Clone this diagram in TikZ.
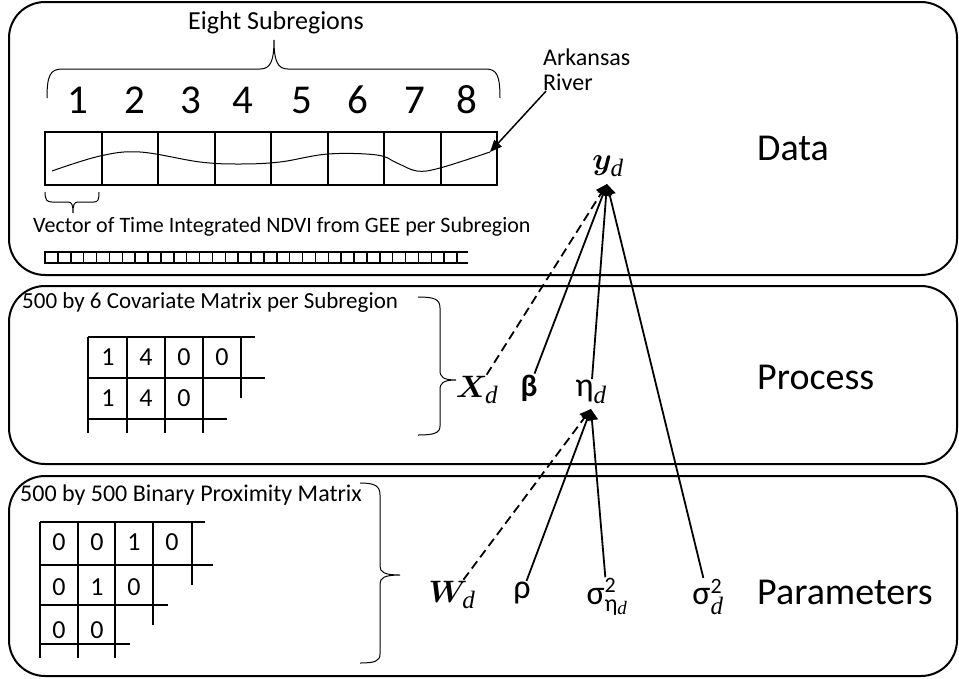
\RequirePackage{fix-cm}
\documentclass[tikz,border=0pt]{standalone}
\usepackage{amsmath}
\usepackage{bm}
\usepackage{fontspec}
\setmainfont{Carlito}
\newfontfamily\serifsub{Liberation Serif}
\usetikzlibrary{arrows.meta}
\newcommand\fsz[1]{\fontsize{#1}{#1}\selectfont}
\newcommand\dsub{\mbox{\fsz{25}\serifsub\itshape d}}
\newcommand\dsubsmall{\mbox{\fsz{19}\serifsub\itshape d}}
\tikzset{
  panel/.style={draw, line width=2pt, rounded corners=36pt},
  gridline/.style={line width=2pt},
  thinline/.style={line width=1pt},
  conn/.style={line width=1.8pt, -{Triangle[length=11pt,width=12pt]}},
  dconn/.style={conn, dash pattern=on 9pt off 5pt},
  lbl/.style={anchor=west, inner sep=0pt, font=\fsz{38}},
  txt/.style={anchor=west, inner sep=0pt},
  sym/.style={inner sep=1pt, font=\fsz{31}},
  gk/.style={inner sep=1pt, font=\fsz{34}},
  digit/.style={inner sep=0pt, font=\fsz{26}},
}
\begin{document}
\begin{tikzpicture}[x=1pt,y=-1pt]
\useasboundingbox (0,0) rectangle (959,678);
% panels
\draw[panel] (9,2) rectangle (957,275);
\draw[panel] (9,286) rectangle (957,464);
\draw[panel] (9,476) rectangle (957,676);

% ---------- Data ----------
\node[inner sep=0pt, font=\fsz{26}] (eight) at (276,23) {Eight Subregions};
\draw[thinline] (47,98) .. controls (47,76) and (50,69) .. (62,69) -- (260,69)
  .. controls (270,69) and (274,62) .. (274,40)
  .. controls (274,62) and (278,69) .. (288,69) -- (486,69)
  .. controls (497,69) and (500,76) .. (500,98);
\foreach \n/\x in {1/78,2/135,3/191,4/243,5/302,6/358,7/415,8/467}
  \node[inner sep=0pt, font=\fsz{41}] (num\n) at (\x,100) {\n};
\draw[gridline] (45,132) rectangle (497,185);
\foreach \x in {102,158,215,271,328,384,441}
  \draw[gridline] (\x,132) -- (\x,185);
\draw[thinline] plot[smooth, tension=0.6] coordinates {(52,171) (100,156) (140,152) (200,162) (240,164) (280,162) (328,154) (377,155) (397,163) (417,171) (440,168) (490,152)};
\coordinate (riverend) at (490,152);
\node[txt, font=\fontsize{24}{25}\selectfont, align=left] (ark) at (543,70) {Arkansas\\River};
\draw[line width=1.5pt, -{Triangle[length=12pt,width=10pt]}] ([xshift=3pt]ark.south west) -- (riverend);
\draw[thinline] (45,192) .. controls (45,200) and (47,202) .. (52,202) -- (68,202)
  .. controls (72,202) and (73,205) .. (73,213)
  .. controls (73,205) and (74,202) .. (78,202) -- (94,202)
  .. controls (98,202) and (99,200) .. (99,192);
\node[txt, font=\fsz{22}] (vec) at (33,227) {Vector of Time Integrated NDVI from GEE per Subregion};
\draw[line width=1.5pt] (468,252) -- (45,252) -- (45,263) -- (468,263);
\foreach \i in {1,...,32}
  \draw[line width=1.5pt] ({45+\i*12.875},252) -- ({45+\i*12.875},263);
\node[sym] (yd) at (608,166) {$\bm{y}_{\dsub}$};
\coordinate (ytip) at (607,184);
\node[lbl] (data) at (757,148) {Data};

% ---------- Process ----------
\node[txt, font=\fsz{23}] (covtxt) at (22,302) {500 by 6 Covariate Matrix per Subregion};
\draw[thinline] (418,297) .. controls (434,297) and (440,299) .. (440,308) -- (440,370)
  .. controls (440,377) and (443,380) .. (456,380)
  .. controls (443,380) and (440,383) .. (440,390) -- (440,426)
  .. controls (440,433) and (434,435) .. (418,435);
\draw[gridline] (88,337) -- (255,337);
\draw[gridline] (88,378) -- (265,378);
\draw[gridline] (88,419) -- (227,419);
\foreach \x in {88,127,165,203} \draw[gridline] (\x,337) -- (\x,433);
\draw[gridline] (241,337) -- (241,398);
\foreach \d/\x in {1/108,4/146,0/184,0/222} \node[digit] at (\x,357) {\d};
\foreach \d/\x in {1/108,4/146,0/184} \node[digit] at (\x,398) {\d};
\node[sym] (xd) at (477,390) {$\bm{X}_{\dsub}$};
\node[inner sep=1pt, font=\fsz{31}\bfseries] (beta) at (529,388) {β};
\node[sym] (eta) at (591,392) {$\mbox{\fsz{34}η}_{\dsub}$};
\coordinate (etip) at (591,409);
\node[lbl] (process) at (757,377) {Process};

% ---------- Parameters ----------
\node[txt, font=\fsz{24}] (proxtxt) at (20,495) {500 by 500 Binary Proximity Matrix};
\draw[thinline] (360,483) .. controls (375,483) and (380,486) .. (380,495) -- (380,566)
  .. controls (380,572) and (384,575) .. (400,575)
  .. controls (384,575) and (380,578) .. (380,584) -- (380,654)
  .. controls (380,661) and (375,663) .. (360,663);
\draw[gridline] (40,522) -- (205,522);
\draw[gridline] (40,565) -- (213,565);
\draw[gridline] (40,605) -- (168,605);
\draw[gridline] (40,644) -- (130,644);
\foreach \x in {40,78,115} \draw[gridline] (\x,522) -- (\x,658);
\draw[gridline] (153,522) -- (153,625);
\draw[gridline] (192,522) -- (192,585);
\foreach \d/\x in {0/59,0/97,1/134,0/172} \node[digit] at (\x,542) {\d};
\foreach \d/\x in {0/59,1/97,0/134} \node[digit] at (\x,587) {\d};
\foreach \d/\x in {0/59,0/97} \node[digit] at (\x,630) {\d};
\node[sym] (wd) at (452,595) {$\bm{W}_{\dsub}$};
\node[gk] (rho) at (522,593) {ρ};
\node[sym] (seta) at (607,597) {$\mbox{\fsz{34}σ}^{\mbox{\fsz{22}2}}_{\mbox{\fsz{24}η\raisebox{-3pt}{\dsubsmall}}}$};
\node[sym] (sd) at (708,597) {$\mbox{\fsz{34}σ}^{\mbox{\fsz{22}2}}_{\dsub}$};
\node[lbl] (params) at (757,592) {Parameters};

% ---------- connectors ----------
\draw[dconn] (xd) -- (ytip);
\draw[conn] (beta) -- (ytip);
\draw[conn] (eta) -- (ytip);
\draw[conn] (sd) -- (ytip);
\draw[dconn] (wd) -- (etip);
\draw[conn] (rho) -- (etip);
\draw[conn] (seta) -- (etip);
\end{tikzpicture}
\end{document}
